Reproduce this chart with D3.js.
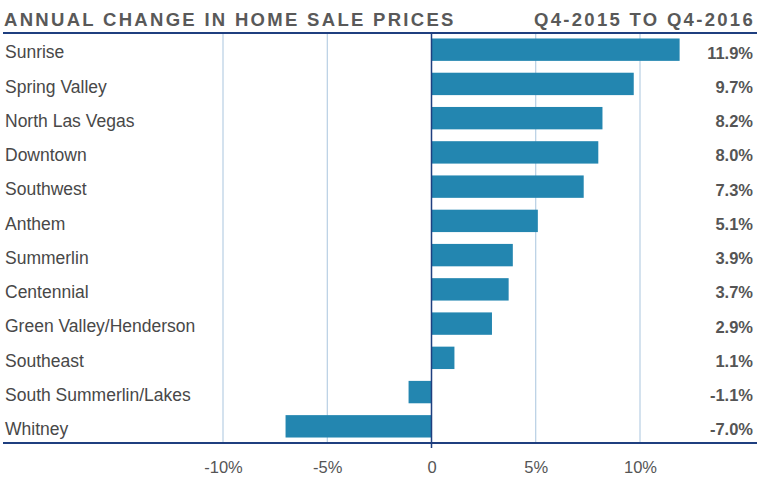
<!DOCTYPE html>
<html><head><meta charset="utf-8">
<script src="https://cdn.jsdelivr.net/npm/d3@7"></script>
<style>body{margin:0;background:#fff;}svg{display:block;}</style>
</head><body>
<svg id="c" width="760" height="484"></svg>
<script>
const categories = ["Sunrise","Spring Valley","North Las Vegas","Downtown","Southwest","Anthem","Summerlin","Centennial","Green Valley/Henderson","Southeast","South Summerlin/Lakes","Whitney"];
const values = [11.9,9.7,8.2,8.0,7.3,5.1,3.9,3.7,2.9,1.1,-1.1,-7.0];
const valueLabels = ["11.9%","9.7%","8.2%","8.0%","7.3%","5.1%","3.9%","3.7%","2.9%","1.1%","-1.1%","-7.0%"];
const tickValues = [-10,-5,0,5,10];
const tickLabels = ["-10%","-5%","0","5%","10%"];
const title = "ANNUAL CHANGE IN HOME SALE PRICES";
const subtitle = "Q4-2015 TO Q4-2016";

const svg = d3.select("#c");
const font = "'Liberation Sans', Arial, sans-serif";
const x = d3.scaleLinear().domain([-10, 10]).range([223, 640]);
const y = d3.scaleBand().domain(categories).range([33, 443]).paddingInner(0.346).paddingOuter(0.16);

// title
svg.append("text").attr("x",4).attr("y",26).text(title)
  .attr("font-family",font).attr("font-weight","bold").attr("font-size",18.5)
  .attr("letter-spacing",2.3).attr("fill","#595959");
svg.append("text").attr("x",755).attr("y",26).attr("text-anchor","end").text(subtitle)
  .attr("font-family",font).attr("font-weight","bold").attr("font-size",18.5)
  .attr("letter-spacing",2.3).attr("fill","#595959");

// gridlines
svg.append("g").selectAll("line").data(tickValues.filter(d=>d!==0)).join("line")
  .attr("x1",d=>x(d)).attr("x2",d=>x(d)).attr("y1",33).attr("y2",443)
  .attr("stroke","#a9c5de").attr("stroke-width",1);

// bars
svg.append("g").selectAll("rect").data(values).join("rect")
  .attr("x",(d)=>x(Math.min(0,d))).attr("width",d=>Math.abs(x(d)-x(0)))
  .attr("y",(d,i)=>y(categories[i])).attr("height",y.bandwidth())
  .attr("fill","#2386b0");

// top and bottom lines
svg.append("line").attr("x1",3).attr("x2",757).attr("y1",33).attr("y2",33).attr("stroke","#1f3f7f").attr("stroke-width",2);
svg.append("line").attr("x1",3).attr("x2",757).attr("y1",443).attr("y2",443).attr("stroke","#1f3f7f").attr("stroke-width",2);
// zero line
svg.append("line").attr("x1",x(0)).attr("x2",x(0)).attr("y1",33).attr("y2",448).attr("stroke","#1f3f7f").attr("stroke-width",1.5);

// x axis labels
const ax = d3.axisBottom(x).tickValues(tickValues).tickFormat((d,i)=>tickLabels[i]).tickSize(0).tickPadding(0);
const g = svg.append("g").attr("transform","translate(0,461)").call(ax);
g.select(".domain").remove();
g.selectAll("text").attr("font-family",font).attr("font-size",16.5).attr("fill","#555").attr("dy","0.71em");

// category labels
svg.append("g").selectAll("text").data(categories).join("text")
  .attr("x",5).attr("y",d=>y(d)+y.bandwidth()/2).attr("dy","0.5em").text(d=>d)
  .attr("font-family",font).attr("font-size",17.5).attr("fill","#484848");

// value labels
svg.append("g").selectAll("text").data(valueLabels).join("text")
  .attr("x",753).attr("y",(d,i)=>y(categories[i])+y.bandwidth()/2).attr("dy","0.55em")
  .attr("text-anchor","end").text(d=>d)
  .attr("font-family",font).attr("font-weight","bold").attr("font-size",16.5).attr("fill","#555");
</script>
</body></html>
